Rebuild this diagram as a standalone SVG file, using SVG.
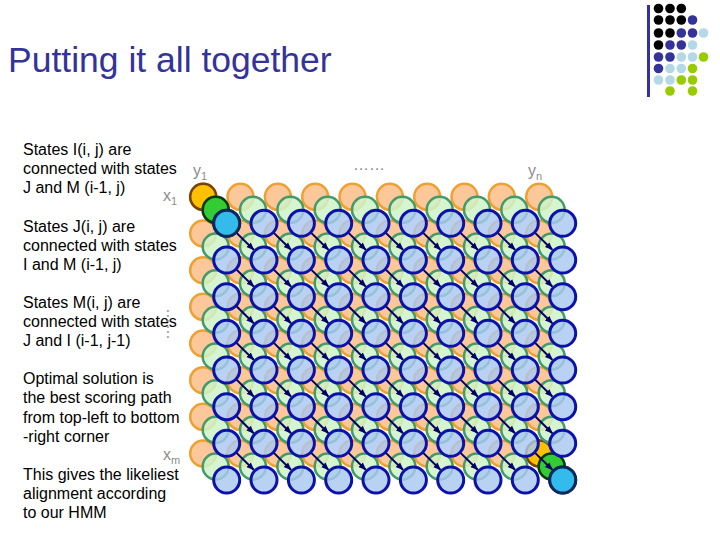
<svg xmlns="http://www.w3.org/2000/svg" width="720" height="540" viewBox="0 0 720 540">
<style>
text{font-family:"Liberation Sans",Arial,sans-serif}
.t{font-size:16px;fill:#000}
.lab{font-size:16px;fill:#8c8c8c}
.o{fill:#fcc89a;stroke:#eea032;stroke-width:2.5}
.g{fill:#cdf3c8;fill-opacity:0.85;stroke:#46996a;stroke-width:2.5}
.b{fill:#a9c8f2;fill-opacity:0.82;stroke:#0c12a8;stroke-width:3}
.y{fill:#ffc000;stroke:#7a4200;stroke-width:2.5}
.bg{fill:#33cc33;stroke:#0a3a12;stroke-width:2.5}
.cy{fill:#33bbec;stroke:#0a2a5a;stroke-width:3}
.ar{stroke:#000066;stroke-width:2;fill:none}
.dk{fill:#000}.nv{fill:#333399}.lb{fill:#b3d9e6}.gr{fill:#99cc00}
</style>
<defs>
<marker id="ah" viewBox="0 0 10 10" refX="9" refY="5" markerWidth="8" markerHeight="8" markerUnits="userSpaceOnUse" orient="auto"><path d="M0,1 L10,5 L0,9 z" fill="#000066"/></marker>
<g id="orow" class="o">
<circle cx="203.2" cy="0" r="13"/><circle cx="240.5" cy="0" r="13"/><circle cx="277.9" cy="0" r="13"/><circle cx="315.2" cy="0" r="13"/><circle cx="352.5" cy="0" r="13"/><circle cx="389.9" cy="0" r="13"/><circle cx="427.2" cy="0" r="13"/><circle cx="464.5" cy="0" r="13"/><circle cx="501.8" cy="0" r="13"/><circle cx="539.2" cy="0" r="13"/>
</g>
<g id="grow" class="g">
<circle cx="215.7" cy="0" r="13"/><circle cx="253.0" cy="0" r="13"/><circle cx="290.4" cy="0" r="13"/><circle cx="327.7" cy="0" r="13"/><circle cx="365.0" cy="0" r="13"/><circle cx="402.4" cy="0" r="13"/><circle cx="439.7" cy="0" r="13"/><circle cx="477.0" cy="0" r="13"/><circle cx="514.3" cy="0" r="13"/><circle cx="551.7" cy="0" r="13"/>
</g>
<g id="brow" class="b">
<circle cx="226.7" cy="0" r="13"/><circle cx="264.0" cy="0" r="13"/><circle cx="301.4" cy="0" r="13"/><circle cx="338.7" cy="0" r="13"/><circle cx="376.0" cy="0" r="13"/><circle cx="413.4" cy="0" r="13"/><circle cx="450.7" cy="0" r="13"/><circle cx="488.0" cy="0" r="13"/><circle cx="525.3" cy="0" r="13"/><circle cx="562.7" cy="0" r="13"/>
</g>
<g id="arow" class="ar" marker-end="url(#ah)">
<line x1="236.0" y1="9.1" x2="253.7" y2="26.5"/><line x1="273.3" y1="9.1" x2="291.0" y2="26.5"/><line x1="310.7" y1="9.1" x2="328.4" y2="26.5"/><line x1="348.0" y1="9.1" x2="365.7" y2="26.5"/><line x1="385.3" y1="9.1" x2="403.0" y2="26.5"/><line x1="422.7" y1="9.1" x2="440.4" y2="26.5"/><line x1="460.0" y1="9.1" x2="477.7" y2="26.5"/><line x1="497.3" y1="9.1" x2="515.0" y2="26.5"/><line x1="534.6" y1="9.1" x2="552.3" y2="26.5"/>
</g>
</defs>
<rect width="720" height="540" fill="#fff"/>
<g id="logo">
<rect x="647" y="5" width="3" height="92" fill="#333399"/>
<circle class="dk" cx="658.5" cy="8.5" r="4.8"/><circle class="dk" cx="670" cy="8.5" r="4.8"/><circle class="dk" cx="681.3" cy="8.5" r="4.8"/>
<circle class="dk" cx="658.5" cy="20" r="4.8"/><circle class="dk" cx="670" cy="20" r="4.8"/><circle class="dk" cx="681.3" cy="20" r="4.8"/><circle class="nv" cx="692.5" cy="20" r="4.8"/>
<circle class="dk" cx="658.5" cy="33" r="4.8"/><circle class="dk" cx="670" cy="33" r="4.8"/><circle class="nv" cx="681.3" cy="33" r="4.8"/><circle class="nv" cx="692.5" cy="33" r="4.8"/><circle class="lb" cx="703.5" cy="33" r="4.8"/>
<circle class="dk" cx="658.5" cy="45" r="4.8"/><circle class="nv" cx="670" cy="45" r="4.8"/><circle class="nv" cx="681.3" cy="45" r="4.8"/><circle class="lb" cx="692.5" cy="45" r="4.8"/>
<circle class="nv" cx="658.5" cy="57" r="4.8"/><circle class="nv" cx="670" cy="57" r="4.8"/><circle class="lb" cx="681.3" cy="57" r="4.8"/><circle class="lb" cx="692.5" cy="57" r="4.8"/><circle class="gr" cx="703.5" cy="57" r="4.8"/>
<circle class="nv" cx="658.5" cy="68.5" r="4.8"/><circle class="lb" cx="670" cy="68.5" r="4.8"/><circle class="lb" cx="681.3" cy="68.5" r="4.8"/><circle class="gr" cx="692.5" cy="68.5" r="4.8"/>
<circle class="lb" cx="658.5" cy="80" r="4.8"/><circle class="lb" cx="670" cy="80" r="4.8"/><circle class="gr" cx="681.3" cy="80" r="4.8"/><circle class="gr" cx="692.5" cy="80" r="4.8"/>
<circle class="gr" cx="670" cy="91" r="4.8"/><circle class="gr" cx="692.5" cy="91" r="4.8"/>
</g>
<text id="title" x="8" y="72" font-size="35.5" fill="#333399">Putting it all together</text>
<g id="notes" class="t">
<text class="t" x="23" y="155">States I(i, j) are</text>
<text class="t" x="23" y="174">connected with states</text>
<text class="t" x="23" y="193">J and M (i-1, j)</text>
<text class="t" x="23" y="231.5">States J(i, j) are</text>
<text class="t" x="23" y="250.5">connected with states</text>
<text class="t" x="23" y="269.5">I and M (i-1, j)</text>
<text class="t" x="23" y="307.5">States M(i, j) are</text>
<text class="t" x="23" y="326.5">connected with states</text>
<text class="t" x="23" y="346">J and I (i-1, j-1)</text>
<text class="t" x="23" y="384">Optimal solution is</text>
<text class="t" x="23" y="403">the best scoring path</text>
<text class="t" x="23" y="422.5">from top-left to bottom</text>
<text class="t" x="23" y="441.5">-right corner</text>
<text class="t" x="23" y="479.5">This gives the likeliest</text>
<text class="t" x="23" y="498.5">alignment according</text>
<text class="t" x="23" y="518">to our HMM</text>
</g>
<g id="axis-labels">
<text class="lab" x="193" y="176">y<tspan font-size="11" dy="4">1</tspan></text>
<text class="lab" x="163" y="201">x<tspan font-size="11" dy="4">1</tspan></text>
<text class="lab" x="528" y="176">y<tspan font-size="11" dy="4">n</tspan></text>
<text class="lab" x="163" y="460">x<tspan font-size="11" dy="4">m</tspan></text>
<text class="lab" x="353" y="170">……</text>
<text class="lab" transform="translate(167,308) rotate(90)">……</text>
</g>
<g id="states-I">
<use href="#orow" y="196.8"/><use href="#orow" y="233.5"/><use href="#orow" y="270.2"/><use href="#orow" y="306.8"/><use href="#orow" y="343.5"/><use href="#orow" y="380.2"/><use href="#orow" y="416.8"/><use href="#orow" y="453.5"/>
<circle class="y" cx="203.2" cy="196.8" r="13"/><circle class="y" cx="539.2" cy="453.5" r="13"/>
</g>
<g id="states-J">
<use href="#grow" y="209.8"/><use href="#grow" y="246.5"/><use href="#grow" y="283.2"/><use href="#grow" y="319.8"/><use href="#grow" y="356.5"/><use href="#grow" y="393.2"/><use href="#grow" y="429.8"/><use href="#grow" y="466.5"/>
<circle class="bg" cx="215.7" cy="209.8" r="13"/><circle class="bg" cx="551.7" cy="466.5" r="13"/>
</g>
<g id="connectors">
<use href="#arow" y="223.3"/><use href="#arow" y="260"/><use href="#arow" y="296.7"/><use href="#arow" y="333.3"/><use href="#arow" y="370"/><use href="#arow" y="406.7"/><use href="#arow" y="443.3"/>
</g>
<g id="states-M">
<use href="#brow" y="223.3"/><use href="#brow" y="260"/><use href="#brow" y="296.7"/><use href="#brow" y="333.3"/><use href="#brow" y="370"/><use href="#brow" y="406.7"/><use href="#brow" y="443.3"/><use href="#brow" y="480"/>
<circle class="cy" cx="226.7" cy="223.3" r="13"/><circle class="cy" cx="562.7" cy="480" r="13"/>
</g>
</svg>
